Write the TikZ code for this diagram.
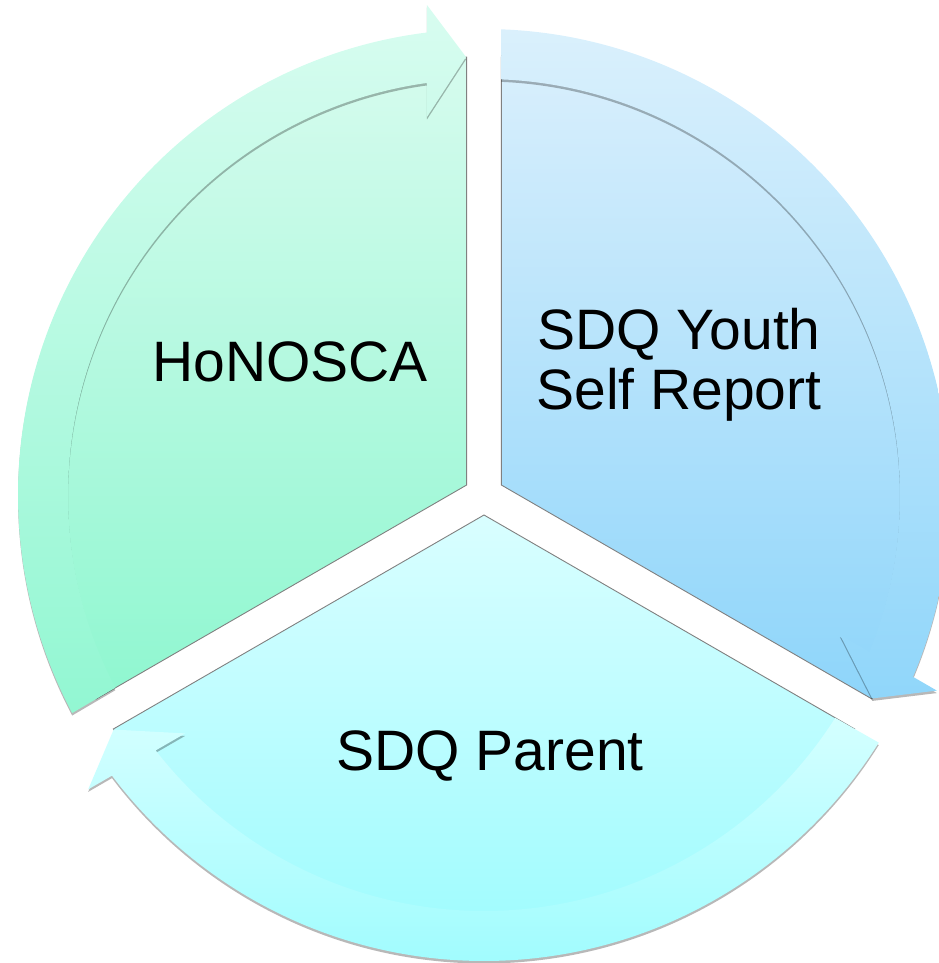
\documentclass[tikz,border=0pt]{standalone}
\usepackage{fontspec}
\setmainfont{Liberation Sans}
\usetikzlibrary{shadows}
\definecolor{gTop}{HTML}{D6FBEE}
\definecolor{gBot}{HTML}{8FF7D0}
\definecolor{gaTop}{HTML}{D8FCF0}
\definecolor{gaBot}{HTML}{92F7D2}
\definecolor{bTop}{HTML}{D9EFFC}
\definecolor{bBot}{HTML}{8ED5FA}
\definecolor{baTop}{HTML}{DAF0FC}
\definecolor{baBot}{HTML}{90D6FA}
\definecolor{cTop}{HTML}{D9FEFF}
\definecolor{cBot}{HTML}{96FBFE}
\definecolor{caTop}{HTML}{D4FFFF}
\definecolor{caBot}{HTML}{A0FCFE}
\tikzset{
  sectorshape/.style={draw=black!50, line width=0.9pt},
  bandshape/.style={drop shadow={shadow xshift=0pt, shadow yshift=-2.5pt, opacity=0.28, fill=black}},
  label/.style={font=\fontsize{57}{60}\selectfont, text=black, inner sep=0pt, align=center}
}
\newcommand{\pieSector}[3]{% offset, top colour, bottom colour
  \path[sectorshape, top color=#2, bottom color=#3]
    (150+#1:20pt) -- ++(90+#1:428pt)
    arc[start angle=90+#1, end angle=210+#1, radius=428pt] -- cycle;}
\newcommand{\pieArrow}[3]{% offset, top colour, bottom colour
  \path[bandshape, top color=#2, bottom color=#3]
    (207.9+#1:466pt) arc[start angle=207.9+#1, end angle=97.03+#1, radius=466pt]
    -- (96.64+#1:493.3pt) -- (92.35+#1:438.4pt) -- (98.58+#1:382.3pt)
    -- (97.88+#1:416pt) arc[start angle=97.88+#1, end angle=207.6+#1, radius=416pt]
    -- cycle;}
\begin{document}
\begin{tikzpicture}[x=1pt,y=1pt]
\useasboundingbox (-484pt,-468pt) rectangle (454pt,495pt);
% sectors
\pieSector{0}{gTop}{gBot}
\pieSector{-120}{bTop}{bBot}
\pieSector{120}{cTop}{cBot}
% arrows
\pieArrow{0}{gaTop}{gaBot}
\pieArrow{-120}{baTop}{baBot}
\pieArrow{120}{caTop}{caBot}
% labels
\node[label, anchor=base] (honosca) at (-194pt,113pt) {HoNOSCA};
\node[label, anchor=center] (youth) at (195pt,130pt) {SDQ Youth\\Self Report};
\node[label, anchor=base] (parent) at (6pt,-275pt) {SDQ Parent};
\end{tikzpicture}
\end{document}
